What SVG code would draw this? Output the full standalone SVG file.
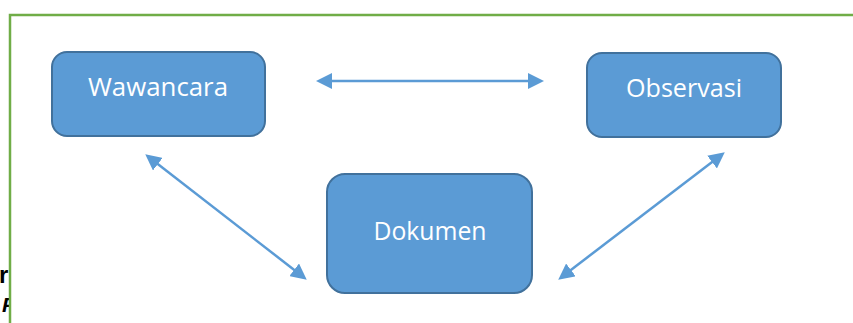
<svg xmlns="http://www.w3.org/2000/svg" width="853" height="323" viewBox="0 0 853 323">
<style>
.node rect{fill:#5b9bd5;stroke:#41719c;stroke-width:2}
.node text{fill:#fff;font-family:"Open Sans","Noto Sans",sans-serif;font-size:26px;text-anchor:middle}
.conn line{stroke:#5b9bd5;stroke-width:2.5;fill:none}
.side{font-family:"Liberation Sans",Arial,sans-serif;fill:#000;font-weight:bold}
</style>
<defs>
<marker id="ah" viewBox="0 0 16 16" refX="12" refY="8" markerWidth="16" markerHeight="16" markerUnits="userSpaceOnUse" orient="auto-start-reverse">
<path d="M0,0 L16,8 L0,16 z" fill="#5b9bd5"/>
</marker>
</defs>
<rect width="853" height="323" fill="#fff"/>
<text class="side" x="-1" y="283" font-size="24">r</text>
<text class="side" x="2" y="312" font-size="21" font-style="italic">P</text>
<rect x="10" y="15" width="860" height="330" fill="#fff" stroke="#70ad47" stroke-width="2.5"/>
<g id="wawancara" class="node">
<rect x="52" y="52" width="213" height="84" rx="15"/>
<text x="158" y="96" textLength="140" lengthAdjust="spacingAndGlyphs">Wawancara</text>
</g>
<g id="observasi" class="node">
<rect x="587" y="53" width="194" height="84" rx="15"/>
<text x="684" y="97" textLength="116" lengthAdjust="spacingAndGlyphs">Observasi</text>
</g>
<g id="dokumen" class="node">
<rect x="327" y="174" width="205" height="119" rx="18"/>
<text x="430" y="240" textLength="113" lengthAdjust="spacingAndGlyphs">Dokumen</text>
</g>
<g id="connectors" class="conn">
<line x1="320" y1="81" x2="540" y2="81" marker-start="url(#ah)" marker-end="url(#ah)"/>
<line x1="148.4" y1="156.8" x2="303.6" y2="277.2" marker-start="url(#ah)" marker-end="url(#ah)"/>
<line x1="721.6" y1="154.8" x2="561.4" y2="277.2" marker-start="url(#ah)" marker-end="url(#ah)"/>
</g>
</svg>
